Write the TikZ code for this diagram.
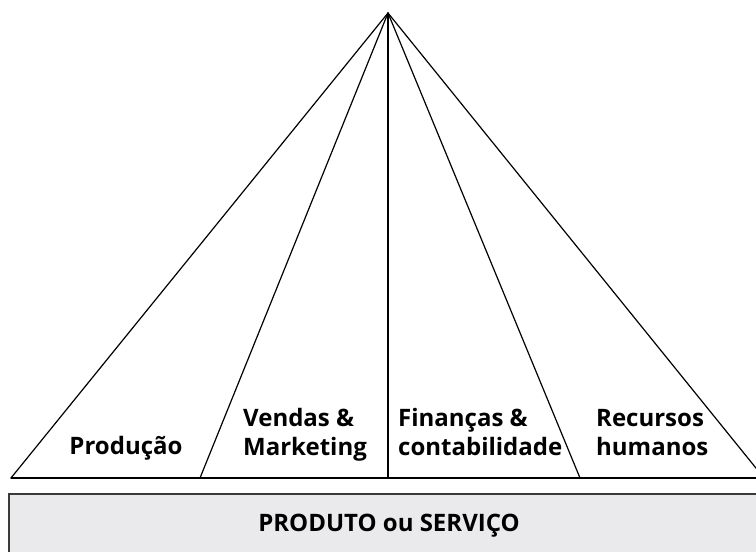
\documentclass[tikz,border=0pt]{standalone}
\usepackage{fontspec}
\setmainfont{Open Sans}
\usetikzlibrary{positioning}
\definecolor{boxgray}{HTML}{EAEAEC}
\definecolor{edgegray}{HTML}{3A3A3A}

\begin{document}
\begin{tikzpicture}[%
  x=1pt, y=1pt,
  edge/.style={line width=1.2pt, line cap=round},
  area/.style={font=\bfseries\fontsize{24}{29}\selectfont, align=left,
    inner sep=0pt, anchor=base west},
  base/.style={font=\bfseries\fontsize{24}{29}\selectfont, inner sep=0pt,
    anchor=base}]
\useasboundingbox (0,0) rectangle (756,552);
% apex and feet of the pyramid
\coordinate (top) at (388,539);
\coordinate (b1) at (11,74);
\coordinate (b2) at (200,74);
\coordinate (b3) at (388,74);
\coordinate (b4) at (580,74);
\coordinate (b5) at (764,74);
\draw[edge] (b1) -- (b5);
\foreach \b in {b1,b2,b3,b4,b5}
  \draw[edge] (top) -- (\b);
% functional areas
\node[base] (prod) at (126,97) {Produção};
\node[area] (vend) at (243,96) {Vendas \&\\Marketing};
\node[area] (fin) at (398,96) {Finanças \&\\contabilidade};
\node[area] (rh) at (596,96) {Recursos\\humanos};
% product
\draw[edgegray, fill=boxgray, line width=1.4pt] (9,-10) rectangle (770,58);
\node[base] (produto) at (389,20) {PRODUTO ou SERVIÇO};
\end{tikzpicture}
\end{document}
